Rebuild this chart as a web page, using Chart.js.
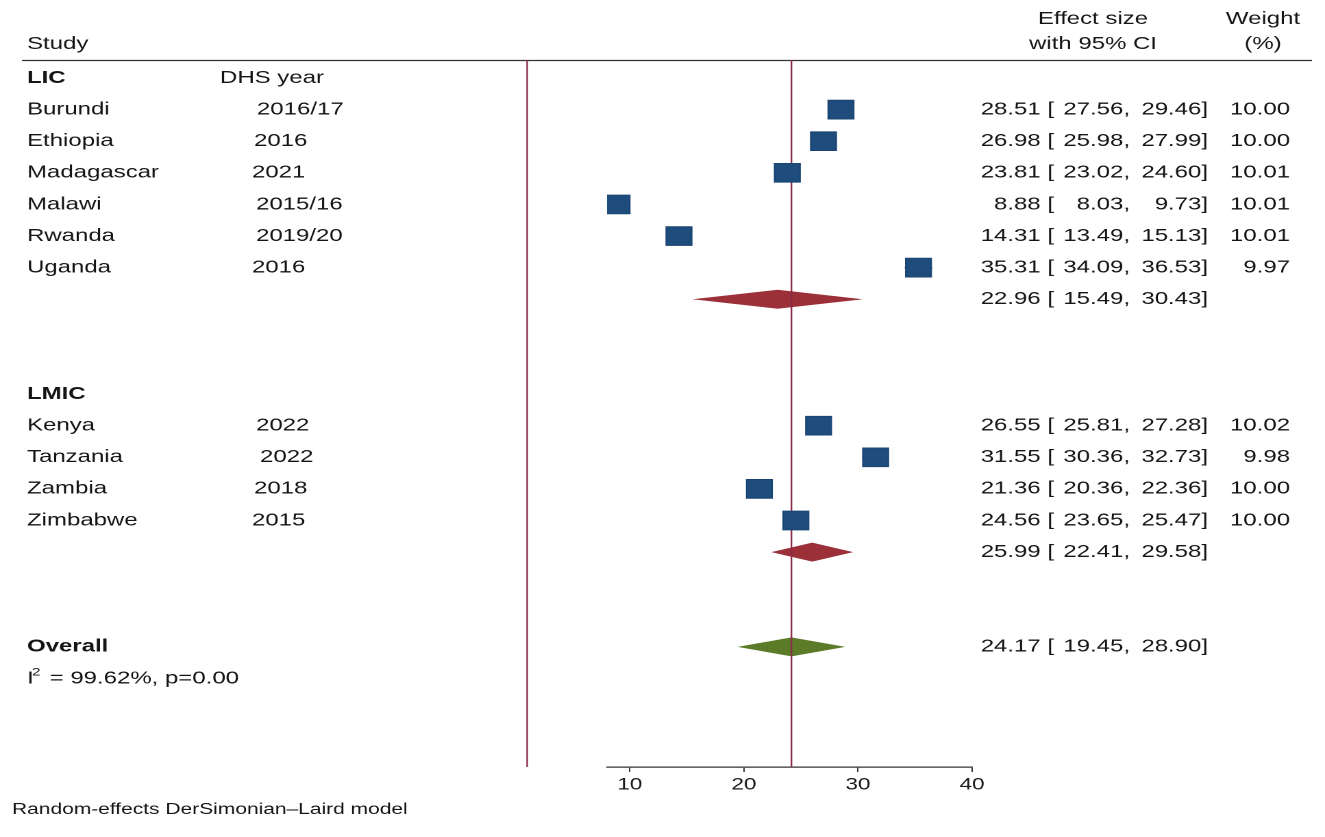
<!DOCTYPE html>
<html><head><meta charset="utf-8">
<script src="https://cdn.jsdelivr.net/npm/chart.js@4.4.1/dist/chart.umd.min.js"></script>
<style>html,body{margin:0;padding:0;background:#fff;overflow:hidden}</style>
</head><body>
<canvas id="c" width="967" height="837" style="display:block;width:1325px;height:837px"></canvas>
<script>
// ---------- data ----------
const groups = ['LIC', 'LMIC'];
const studies = ['Burundi','Ethiopia','Madagascar','Malawi','Rwanda','Uganda','Kenya','Tanzania','Zambia','Zimbabwe'];
const studyGroup = [0,0,0,0,0,0,1,1,1,1];
const dhsYears = ['2016/17','2016','2021','2015/16','2019/20','2016','2022','2022','2018','2015'];
const effect = [28.51,26.98,23.81,8.88,14.31,35.31,26.55,31.55,21.36,24.56];
const ciLow  = [27.56,25.98,23.02,8.03,13.49,34.09,25.81,30.36,20.36,23.65];
const ciHigh = [29.46,27.99,24.60,9.73,15.13,36.53,27.28,32.73,22.36,25.47];
const weights = ['10.00','10.00','10.01','10.01','10.01','9.97','10.02','9.98','10.00','10.00'];
const subEffect = [22.96, 25.99];
const subLow    = [15.49, 22.41];
const subHigh   = [30.43, 29.58];
const overallEffect = 24.17, overallLow = 19.45, overallHigh = 28.90;
const heterogeneity = ' = 99.62%, p=0.00';
const nullValue = 1;
const xTicks = [10, 20, 30, 40];
const footNote = 'Random-effects DerSimonian\u2013Laird model';

// ---------- row layout (derived) ----------
const rows = [];
groups.forEach((g, gi) => {
  rows.push({type:'header', label:g, gi});
  studies.forEach((s, i) => { if (studyGroup[i] === gi) rows.push({type:'study', idx:i}); });
  rows.push({type:'sub', gi});
  rows.push({type:'blank'}); rows.push({type:'blank'});
});
rows.push({type:'overall'});
rows.push({type:'het'});
const rowOf = {};
rows.forEach((r, k) => { if (r.type === 'study') rowOf[r.idx] = k; });
const subRow = rows.map((r,k)=>r.type==='sub'?k:-1).filter(k=>k>=0);
const overallRow = rows.findIndex(r=>r.type==='overall');

// ---------- styling / layout ----------
const W = 967, S = 1325 / W;            // canvas is stretched horizontally like the reference
const X = px => px / S;
const FONT = '"Liberation Sans", Arial, Helvetica, sans-serif';
const TXT = '#151515';
const BOX = '#1d4c7d';
const LINE = '#8c2a48';
const RED = '#9b3039';
const GREEN = '#5c7b29';
const yearTextX = [257,254,252,256,256,252,256,260,254,252];
Chart.defaults.font.family = FONT;

const forest = {
  id: 'forest',
  beforeDatasetsDraw(chart) {
    const {ctx, scales:{x, y}, chartArea} = chart;
    ctx.save();
    ctx.strokeStyle = '#333'; ctx.lineWidth = 1.3;
    ctx.beginPath(); ctx.moveTo(X(22), 60.5); ctx.lineTo(X(1312), 60.5); ctx.stroke();
    const dia = (lo, est, hi, row, col) => {
      const yc = y.getPixelForValue(row), h = 9.5;
      ctx.fillStyle = col;
      ctx.beginPath();
      ctx.moveTo(x.getPixelForValue(lo), yc);
      ctx.lineTo(x.getPixelForValue(est), yc - h);
      ctx.lineTo(x.getPixelForValue(hi), yc);
      ctx.lineTo(x.getPixelForValue(est), yc + h);
      ctx.closePath(); ctx.fill();
    };
    subEffect.forEach((e, gi) => dia(subLow[gi], e, subHigh[gi], subRow[gi], RED));
    dia(overallLow, overallEffect, overallHigh, overallRow, GREEN);
    ctx.strokeStyle = LINE; ctx.lineWidth = 1.2;
    [nullValue, overallEffect].forEach(v => {
      const px = x.getPixelForValue(v);
      ctx.beginPath(); ctx.moveTo(px, chartArea.top); ctx.lineTo(px, chartArea.bottom); ctx.stroke();
    });
    ctx.strokeStyle = BOX; ctx.lineWidth = 1;
    effect.forEach((e, i) => {
      const yc = y.getPixelForValue(rowOf[i]);
      ctx.beginPath(); ctx.moveTo(x.getPixelForValue(ciLow[i]), yc); ctx.lineTo(x.getPixelForValue(ciHigh[i]), yc); ctx.stroke();
    });
    ctx.restore();
  },
  afterDraw(chart) {
    const {ctx, scales:{y}} = chart;
    ctx.save();
    ctx.fillStyle = TXT; ctx.textBaseline = 'middle';
    const t = (s, px, py, align='left', bold=false, size=17.5) => {
      ctx.font = `${bold?'bold ':''}${size}px ${FONT}`; ctx.textAlign = align;
      ctx.fillText(s, px, py);
    };
    // effect size with CI, in three right-aligned pieces so columns line up
    const es = (e, l, h, py) => {
      t(`${e.toFixed(2)} [`, X(1054), py, 'right');
      t(`${l.toFixed(2)},`, X(1130), py, 'right');
      t(`${h.toFixed(2)}]`, X(1208), py, 'right');
    };
    t('Study', X(27), 44);
    t('Effect size', X(1093), 19, 'center');
    t('with 95% CI', X(1093), 44, 'center');
    t('Weight', X(1263), 19, 'center');
    t('(%)', X(1263), 44, 'center');
    rows.forEach((r, k) => {
      const py = y.getPixelForValue(k);
      if (r.type === 'header') {
        t(r.label, X(27), py, 'left', true);
        if (r.gi === 0) t('DHS year', X(220), py);
      } else if (r.type === 'study') {
        const i = r.idx;
        t(studies[i], X(27), py);
        t(dhsYears[i], X(yearTextX[i]), py);
        es(effect[i], ciLow[i], ciHigh[i], py);
        t(weights[i], X(1290), py, 'right');
      } else if (r.type === 'sub') {
        es(subEffect[r.gi], subLow[r.gi], subHigh[r.gi], py);
      } else if (r.type === 'overall') {
        t('Overall', X(27), py, 'left', true);
        es(overallEffect, overallLow, overallHigh, py);
      } else if (r.type === 'het') {
        t('I', X(27), py);
        t('2', X(32), py - 6, 'left', false, 11);
        t(heterogeneity, X(43), py);
      }
    });
    t(footNote, X(12), 810, 'left', false, 15.3);
    ctx.restore();
  }
};

new Chart(document.getElementById('c'), {
  type: 'scatter',
  data: { datasets: [{
    data: effect.map((e, i) => ({x: e, y: rowOf[i]})),
    pointStyle: 'rect', pointRadius: 13.2, pointHoverRadius: 13.2,
    backgroundColor: BOX, borderColor: '#1a4572', borderWidth: 1
  }]},
  options: {
    responsive: false, devicePixelRatio: 2, animation: false, events: [],
    layout: { padding: { left: X(607), right: W - X(972), top: 60, bottom: 0 } },
    plugins: { legend: {display:false}, tooltip: {enabled:false} },
    scales: {
      x: {
        type: 'linear', min: 8, max: 40,
        afterBuildTicks: s => { s.ticks = xTicks.map(v => ({value: v})); },
        afterFit: s => { s.height = 70; },
        grid: { drawOnChartArea: false, drawTicks: true, tickLength: 5, color: '#333', lineWidth: 1 },
        border: { display: true, color: '#333', width: 1.3 },
        ticks: { color: '#1a1a1a', font: { size: 16.5 }, padding: 3, maxRotation: 0, autoSkip: false }
      },
      y: { type: 'linear', display: false, reverse: true, min: -0.57, max: 21.8 }
    }
  },
  plugins: [forest]
});
</script>
</body></html>
